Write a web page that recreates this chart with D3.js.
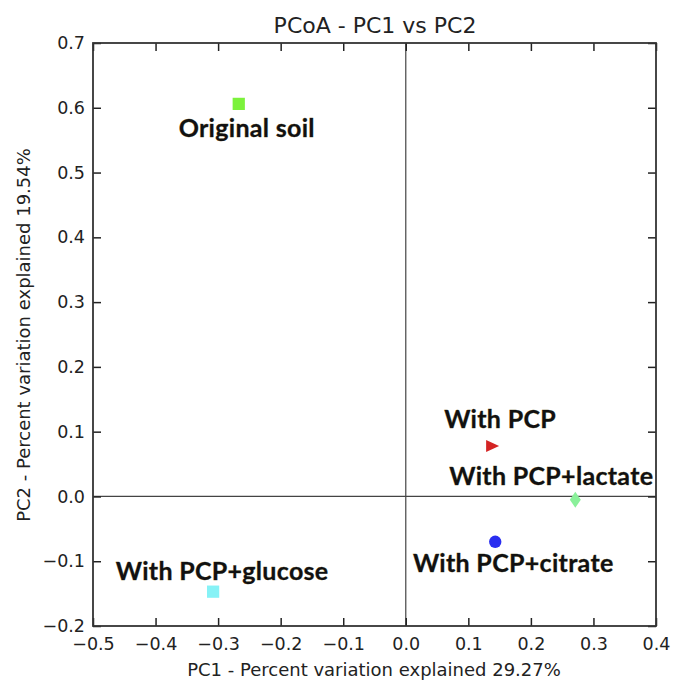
<!DOCTYPE html>
<html>
<head>
<meta charset="utf-8">
<script src="https://cdn.jsdelivr.net/npm/d3@7"></script>
<style>
  body { margin: 0; background: #fff; }
  .tick text { font-family: "DejaVu Sans", sans-serif; font-size: 17.5px; fill: #222; }
  .pt-label { font-family: Lato, "Open Sans", sans-serif; font-weight: 700; font-size: 25px; letter-spacing: 0.3px; fill: #111; stroke: #6b5a20; stroke-width: 0.4px; paint-order: stroke; }
  .ttl { font-family: "DejaVu Sans", sans-serif; fill: #222; }
</style>
</head>
<body>
<div id="chart"></div>
<script>
// samples in PC1 / PC2 space
const names = ['Original soil', 'With PCP', 'With PCP+lactate', 'With PCP+citrate', 'With PCP+glucose'];
const pc1 = [-0.267, 0.138, 0.271, 0.143, -0.308];
const pc2 = [0.606, 0.078, -0.005, -0.070, -0.147];
const xTicks = [-0.5, -0.4, -0.3, -0.2, -0.1, 0.0, 0.1, 0.2, 0.3, 0.4];
const yTicks = [-0.2, -0.1, 0.0, 0.1, 0.2, 0.3, 0.4, 0.5, 0.6, 0.7];

const width = 673, height = 680;
const margin = { top: 43, right: 17, bottom: 54, left: 93 };

// marker look per sample
const shapes = [d3.symbolSquare, 'tri', 'diamond', d3.symbolCircle, d3.symbolSquare];
const colors = ['#7cf23c', '#d42424', '#8af09a', '#2a2ef0', '#86f2f6'];
// label placement relative to marker (dx, dy in px)
const labelOffset = [[8, 33], [8, -18], [-24, -15], [18, 30], [9, -12]];

const svg = d3.select('#chart').append('svg')
    .attr('width', width)
    .attr('height', height);

const x = d3.scaleLinear().domain([-0.5, 0.4]).range([margin.left, width - margin.right]);
const y = d3.scaleLinear().domain([-0.2, 0.7]).range([height - margin.bottom, margin.top]);

const fmt = d3.format('.1f');
const tk = 8;

// zero lines
svg.append('line')
    .attr('x1', x(0)).attr('x2', x(0))
    .attr('y1', y(0.7)).attr('y2', y(-0.2))
    .attr('stroke', '#444').attr('stroke-width', 1.2);
svg.append('line')
    .attr('x1', x(-0.5)).attr('x2', x(0.4))
    .attr('y1', y(0)).attr('y2', y(0))
    .attr('stroke', '#444').attr('stroke-width', 1.2);

// axes, ticks pointing inward
const styleAxis = (g) => {
    g.select('.domain').remove();
    g.selectAll('.tick line').attr('stroke', '#222').attr('stroke-width', 1.5);
};

svg.append('g')
    .attr('transform', `translate(0,${y(-0.2)})`)
    .call(d3.axisBottom(x).tickValues(xTicks).tickFormat(fmt).tickSizeInner(-tk).tickSizeOuter(0).tickPadding(12))
    .call(styleAxis);
svg.append('g')
    .attr('transform', `translate(0,${y(0.7)})`)
    .call(d3.axisTop(x).tickValues(xTicks).tickFormat('').tickSizeInner(-tk).tickSizeOuter(0))
    .call(styleAxis);
svg.append('g')
    .attr('transform', `translate(${x(-0.5)},0)`)
    .call(d3.axisLeft(y).tickValues(yTicks).tickFormat(fmt).tickSizeInner(-tk).tickSizeOuter(0).tickPadding(8))
    .call(styleAxis);
svg.append('g')
    .attr('transform', `translate(${x(0.4)},0)`)
    .call(d3.axisRight(y).tickValues(yTicks).tickFormat('').tickSizeInner(-tk).tickSizeOuter(0))
    .call(styleAxis);

// frame
svg.append('rect')
    .attr('x', x(-0.5)).attr('y', y(0.7))
    .attr('width', x(0.4) - x(-0.5)).attr('height', y(-0.2) - y(0.7))
    .attr('fill', 'none').attr('stroke', '#333').attr('stroke-width', 1.8);

// markers
const data = names.map((n, i) => ({ name: n, x: pc1[i], y: pc2[i], i }));

const marker = (d) => {
    const s = shapes[d.i];
    if (s === 'tri') return 'M-6,-6L7,0L-6,6Z';
    if (s === 'diamond') return 'M0,-8L5.5,0L0,8L-5.5,0Z';
    return d3.symbol().type(s).size(s === d3.symbolCircle ? 120 : 150)();
};

svg.append('g').selectAll('path')
    .data(data)
    .join('path')
    .attr('transform', (d) => `translate(${x(d.x)},${y(d.y)})`)
    .attr('d', marker)
    .attr('fill', (d) => colors[d.i]);

svg.append('g').selectAll('text')
    .data(data)
    .join('text')
    .attr('class', 'pt-label')
    .attr('text-anchor', 'middle')
    .attr('x', (d) => x(d.x) + labelOffset[d.i][0])
    .attr('y', (d) => y(d.y) + labelOffset[d.i][1])
    .text((d) => d.name);

// titles
svg.append('text')
    .attr('class', 'ttl')
    .attr('x', 375).attr('y', 33)
    .attr('text-anchor', 'middle')
    .style('font-size', '22px')
    .text('PCoA - PC1 vs PC2');

svg.append('text')
    .attr('class', 'ttl')
    .attr('x', 374).attr('y', 676)
    .attr('text-anchor', 'middle')
    .style('font-size', '18px')
    .text('PC1 - Percent variation explained 29.27%');

svg.append('text')
    .attr('class', 'ttl')
    .attr('transform', 'translate(30,335) rotate(-90)')
    .attr('text-anchor', 'middle')
    .style('font-size', '18px')
    .text('PC2 - Percent variation explained 19.54%');
</script>
</body>
</html>
